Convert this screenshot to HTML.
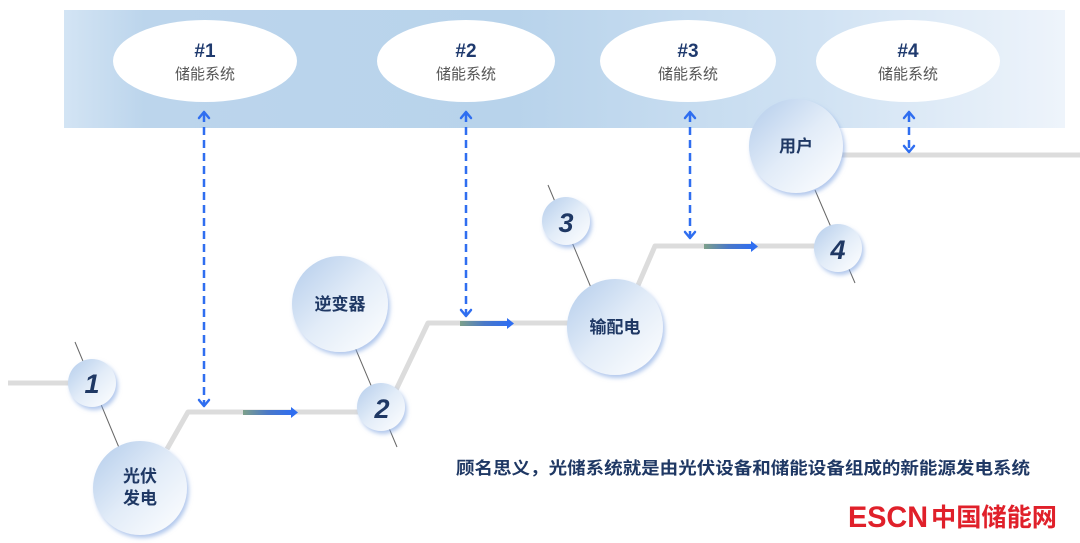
<!DOCTYPE html>
<html><head><meta charset="utf-8"><style>
html,body{margin:0;padding:0;background:#fff;width:1080px;height:543px;overflow:hidden}
svg{display:block}
text{font-family:"Liberation Sans","Noto Sans CJK SC",sans-serif}
</style></head><body>
<svg width="1080" height="543" viewBox="0 0 1080 543" xmlns="http://www.w3.org/2000/svg">
<defs>
<linearGradient id="band" x1="0" x2="1" y1="0" y2="0">
<stop offset="0" stop-color="#d3e4f4"/><stop offset="0.08" stop-color="#bcd5ec"/><stop offset="0.45" stop-color="#b8d3eb"/><stop offset="0.75" stop-color="#d0e2f3"/><stop offset="1" stop-color="#eef4fb"/>
</linearGradient>
<linearGradient id="ball" x1="0" y1="0" x2="1" y2="1">
<stop offset="0" stop-color="#b3cceb"/><stop offset="0.5" stop-color="#e2ecf8"/><stop offset="1" stop-color="#ffffff"/>
</linearGradient>
<linearGradient id="arr" x1="0" x2="1">
<stop offset="0" stop-color="#7da08a"/><stop offset="0.5" stop-color="#4a78c8"/><stop offset="1" stop-color="#2f6ef0"/>
</linearGradient>
<filter id="sh" x="-20%" y="-20%" width="150%" height="150%"><feDropShadow dx="2" dy="3" stdDeviation="2" flood-color="#7fa3e0" flood-opacity="0.6"/></filter>
</defs>
<rect x="64" y="10" width="1001" height="118" fill="url(#band)"/>
<g fill="#fff">
<ellipse cx="205" cy="61" rx="92" ry="41"/><ellipse cx="466" cy="61" rx="89" ry="41"/><ellipse cx="688" cy="61" rx="88" ry="41"/><ellipse cx="908" cy="61" rx="92" ry="41"/>
</g>
<g text-anchor="middle">
<g font-weight="bold" font-size="19" fill="#1f3a6e">
<text x="205" y="57">#1</text><text x="466" y="57">#2</text><text x="688" y="57">#3</text><text x="908" y="57">#4</text></g>
<g font-size="15" fill="#555">
<text x="205" y="79">储能系统</text><text x="466" y="79">储能系统</text><text x="688" y="79">储能系统</text><text x="908" y="79">储能系统</text></g>
</g>
<g stroke="#666" stroke-width="1">
<line x1="75" y1="342" x2="120" y2="450"/><line x1="354" y1="345" x2="397" y2="447"/><line x1="548" y1="185" x2="592" y2="290"/><line x1="815" y1="190" x2="855" y2="283"/>
</g>
<g stroke="#dcdcdc" stroke-width="5" fill="none" stroke-linejoin="round">
<line x1="8" y1="383" x2="72" y2="383"/>
<polyline points="167,449 188,412 362,412"/>
<polyline points="395,392 428,323 570,323"/>
<polyline points="636,290 655,246 816,246"/>
<line x1="840" y1="155" x2="1080" y2="155"/>
</g>
<g>
<rect x="243" y="410" width="50" height="5" fill="url(#arr)"/><path d="M291,407 L298,412.5 L291,418Z" fill="#2f6ef0"/>
<rect x="460" y="321" width="49" height="5" fill="url(#arr)"/><path d="M507,318 L514,323.5 L507,329Z" fill="#2f6ef0"/>
<rect x="704" y="244" width="49" height="5" fill="url(#arr)"/><path d="M751,241 L758,246.5 L751,252Z" fill="#2f6ef0"/>
</g>
<g stroke="#2f6ef0" stroke-width="2.5" stroke-dasharray="8,5" fill="none">
<line x1="204" y1="114" x2="204" y2="404"/><line x1="466" y1="114" x2="466" y2="314"/><line x1="690" y1="114" x2="690" y2="236"/><line x1="909" y1="114" x2="909" y2="150"/>
</g>
<g stroke="#2f6ef0" stroke-width="2.5" fill="none" stroke-linecap="round" stroke-linejoin="round">
<path d="M199,118 L204,112 L209,118"/><path d="M199,400 L204,406 L209,400"/>
<path d="M461,118 L466,112 L471,118"/><path d="M461,310 L466,316 L471,310"/>
<path d="M685,118 L690,112 L695,118"/><path d="M685,232 L690,238 L695,232"/>
<path d="M904,118 L909,112 L914,118"/><path d="M904,146 L909,152 L914,146"/>
</g>
<g fill="url(#ball)" filter="url(#sh)">
<circle cx="92" cy="383" r="24"/><circle cx="381" cy="407" r="24"/><circle cx="566" cy="221" r="24"/><circle cx="838" cy="248" r="24"/>
<circle cx="140" cy="488" r="47"/><circle cx="340" cy="304" r="48"/><circle cx="615" cy="327" r="48"/><circle cx="796" cy="146" r="47"/>
</g>
<g text-anchor="middle" fill="#1f3864" font-weight="bold">
<g font-size="27" font-style="italic"><text x="92" y="393">1</text><text x="382" y="418">2</text><text x="566" y="232">3</text><text x="838" y="259">4</text></g>
<g font-size="17"><text x="140" y="482">光伏</text><text x="140" y="504">发电</text><text x="340" y="310">逆变器</text><text x="615" y="333">输配电</text><text x="796" y="152">用户</text></g>
</g>
<text x="456" y="474" font-size="17" font-weight="bold" fill="#1f3864" textLength="574" lengthAdjust="spacingAndGlyphs">顾名思义，光储系统就是由光伏设备和储能设备组成的新能源发电系统</text>
<text x="848" y="527" font-size="30" font-weight="bold" fill="#e0202a" textLength="80" lengthAdjust="spacingAndGlyphs">ESCN</text>
<text x="931" y="526" font-size="25" font-weight="bold" fill="#e0202a" textLength="126" lengthAdjust="spacingAndGlyphs">中国储能网</text>
</svg>
</body></html>
